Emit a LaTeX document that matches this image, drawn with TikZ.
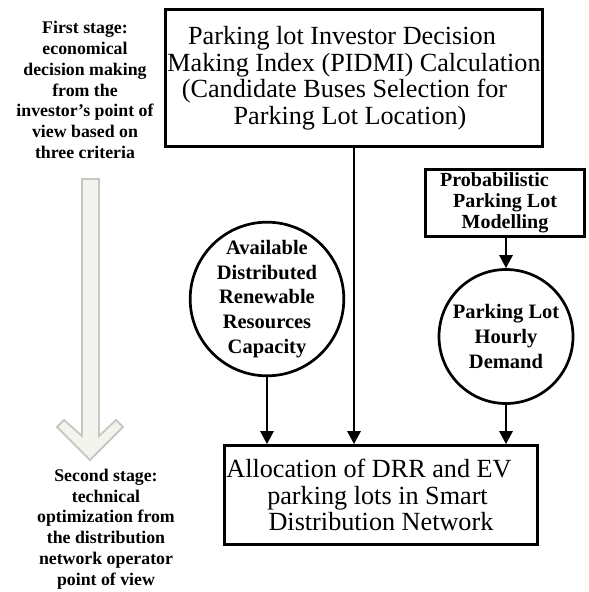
\documentclass[tikz,border=0pt]{standalone}
\usepackage{fontspec}
\setmainfont{Liberation Serif}
\usetikzlibrary{arrows.meta}
\definecolor{arrowline}{HTML}{C8C8C0}
\definecolor{arrowfill}{HTML}{F4F4EF}
\begin{document}
\begin{tikzpicture}[x=1pt,y=-1pt,
  box/.style={draw, line width=2.7pt, inner sep=0pt, align=center},
  regtext/.style={font=\fontsize{26.2}{26.5}\selectfont},
  boldbox/.style={font=\bfseries\fontsize{20}{21}\selectfont},
  circ/.style={draw, circle, line width=2.7pt, inner sep=0pt, align=center, font=\bfseries\fontsize{20.5}{24.6}\selectfont},
  conn/.style={line width=2.7pt, -{Triangle[width=13pt,length=13pt]}},
  side/.style={align=center, inner sep=0pt, font=\bfseries\fontsize{17.8}{20.7}\selectfont},
]
\useasboundingbox (0,0) rectangle (589,592);

% stage annotation arrow
\draw[draw=arrowline, fill=arrowfill, line width=1.8pt, line join=miter]
  (82,179) -- (82,436) -- (64,420) -- (57,427) -- (90,460) -- (123,427) -- (116,420) -- (99,436) -- (99,179) -- cycle;

\node[side] (s1) at (85,90) {First stage:\\economical\\decision making\\from the\\investor’s point of\\view based on\\three criteria};
\node[side] (s2) at (106,529) {Second stage:\\technical\\optimization from\\the distribution\\network operator\\point of view};

\node[box, regtext, minimum width=377pt, minimum height=137pt] (top) at (354,78)
  {Parking lot Investor Decision\kern24pt\\Making Index (PIDMI) Calculation\\(Candidate Buses Selection for\kern19pt\\Parking Lot Location)\kern8pt};

\node[box, boldbox, minimum width=159pt, minimum height=67pt] (prob) at (505,203)
  {Probabilistic\kern21pt\\Parking Lot\\Modelling};

\node[circ, minimum size=143pt] (c1) at (267,299)
  {Available\\Distributed\\Renewable\\Resources\\Capacity};

\node[circ, minimum size=134pt] (c2) at (506,336.5)
  {Parking Lot\\Hourly\\Demand};

\node[box, regtext, minimum width=313pt, minimum height=99pt] (bot) at (381,495)
  {Allocation of DRR and EV\kern24pt\\parking lots in Smart\kern7pt\\Distribution Network};

\draw[conn] (top.south) -- (top.south |- bot.north);
\draw[conn] (c1.south) -- (c1.south |- bot.north);
\draw[conn] (prob.south -| c2.north) -- (c2.north);
\draw[conn] (c2.south) -- (c2.south |- bot.north);
\end{tikzpicture}
\end{document}
